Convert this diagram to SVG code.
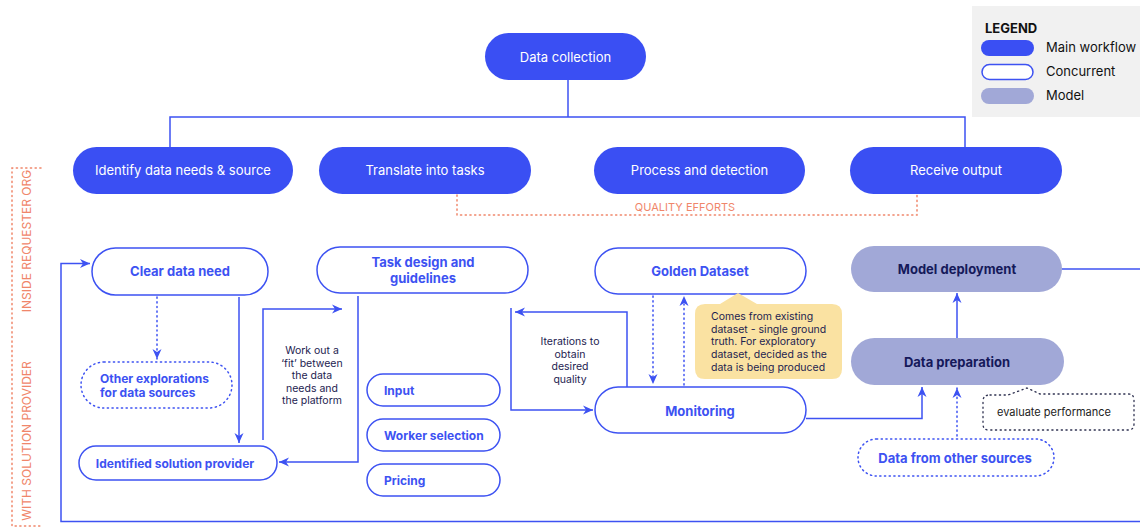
<svg xmlns="http://www.w3.org/2000/svg" width="1140" height="527" viewBox="0 0 1140 527">
<defs>
<marker id="ah" markerWidth="12" markerHeight="12" viewBox="0 0 12 12" refX="11" refY="6" orient="auto" markerUnits="userSpaceOnUse">
<path d="M1,1.5 L11,6 L1,10.5 L4,6 Z" fill="#3d52f2"/>
</marker>
<style>
.main rect{fill:#3a4ff3}
.main text{fill:#fff;font-family:Inter,"Liberation Sans",sans-serif;font-size:13px;text-anchor:middle}
.conc rect{fill:#fff;stroke:#3d52f2;stroke-width:1.5}
.conc text{fill:#3d52f2;font-family:Inter,"Liberation Sans",sans-serif;font-size:13px;font-weight:700;text-anchor:middle}
.dot rect{fill:#fff;stroke:#3d52f2;stroke-width:1.5;stroke-dasharray:1.2 3.5;stroke-linecap:round}
.model rect{fill:#a1a8d7}
.model text{fill:#15195a;font-family:Inter,"Liberation Sans",sans-serif;font-size:13px;font-weight:700;text-anchor:middle}
.ln{fill:none;stroke:#3d52f2;stroke-width:1.5}
.dl{fill:none;stroke:#3d52f2;stroke-width:1.5;stroke-dasharray:1.2 3.5;stroke-linecap:round}
.or{fill:none;stroke:#f0866a;stroke-width:1.5;stroke-dasharray:1.2 3.5;stroke-linecap:round}
.ann{fill:#1d2250;font-family:Inter,"Liberation Sans",sans-serif;font-size:10.5px;text-anchor:middle}
.orl{fill:#f0866a;font-family:Inter,"Liberation Sans",sans-serif;font-size:11px;text-anchor:middle}
.leg{fill:#111;font-family:Inter,"Liberation Sans",sans-serif;font-size:13px}
</style>
</defs>
<rect width="1140" height="527" fill="#fff"/>

<!-- legend -->
<g id="legend">
<rect x="972" y="6" width="168" height="111" fill="#f1f1f1"/>
<text x="985" y="33" class="leg" font-weight="700">LEGEND</text>
<rect x="981" y="40" width="53" height="16" rx="8" fill="#3a4ff3"/>
<rect x="982" y="64.5" width="51" height="15" rx="7.5" fill="#fff" stroke="#3d52f2" stroke-width="1.5"/>
<rect x="981" y="88" width="53" height="16" rx="8" fill="#a1a8d7"/>
<text x="1046" y="52" class="leg">Main workflow</text>
<text x="1046" y="76" class="leg">Concurrent</text>
<text x="1046" y="100" class="leg">Model</text>
</g>

<!-- side labels -->
<g id="side-bracket">
<path class="or" d="M41,168 H12 V526 H41"/>
<text class="orl" style="font-size:12px" transform="translate(31,241) rotate(-90)">INSIDE REQUESTER ORG</text>
<text class="orl" style="font-size:12px" transform="translate(31,441) rotate(-90)">WITH SOLUTION PROVIDER</text>
</g>

<!-- connectors -->
<g id="connectors">
<path class="ln" d="M568,80 V117"/>
<path class="ln" d="M170,147 V117 H965 V147"/>
<path class="or" d="M457,195 V215 H917 V195"/>
<text class="orl" x="685" y="211">QUALITY EFFORTS</text>

<path class="ln" d="M1140,521.5 H61 V263.5 H90" marker-end="url(#ah)"/>
<path class="dl" d="M157,297 V359" marker-end="url(#ah)"/>
<path class="ln" d="M239,297 V443" marker-end="url(#ah)"/>
<path class="ln" d="M263,440 V309 H342" marker-end="url(#ah)"/>
<path class="ln" d="M358,296 V462 H279" marker-end="url(#ah)"/>
<text class="ann"><tspan x="312" y="354">Work out a</tspan><tspan x="312" y="366.5">‘fit’ between</tspan><tspan x="312" y="379">the data</tspan><tspan x="312" y="391.5">needs and</tspan><tspan x="312" y="404">the platform</tspan></text>

<path class="ln" d="M627,387 V312 H515" marker-end="url(#ah)"/>
<path class="ln" d="M511,308 V410 H593" marker-end="url(#ah)"/>
<text class="ann"><tspan x="570" y="345">Iterations to</tspan><tspan x="570" y="357.5">obtain</tspan><tspan x="570" y="370">desired</tspan><tspan x="570" y="382.5">quality</tspan></text>

<path class="dl" d="M653,296 V384" marker-end="url(#ah)"/>
<path class="dl" d="M684,385 V296" marker-end="url(#ah)"/>

<path class="ln" d="M806,418.5 H922 V387" marker-end="url(#ah)"/>
<path class="ln" d="M957,338 V293" marker-end="url(#ah)"/>
<path class="dl" d="M957,436 V388" marker-end="url(#ah)"/>
<path class="ln" d="M1062,269 H1140"/>
</g>

<!-- top row -->
<g id="data-collection" class="main"><rect x="485" y="33" width="161" height="47" rx="23.5"/><text x="565.5" y="61.5">Data collection</text></g>
<g id="identify" class="main"><rect x="73" y="147" width="220" height="47" rx="23.5"/><text x="183" y="175">Identify data needs &amp; source</text></g>
<g id="translate" class="main"><rect x="319" y="147" width="212" height="47" rx="23.5"/><text x="425" y="175">Translate into tasks</text></g>
<g id="process" class="main"><rect x="594" y="147" width="211" height="47" rx="23.5"/><text x="699.5" y="175">Process and detection</text></g>
<g id="receive" class="main"><rect x="850" y="147" width="212" height="47" rx="23.5"/><text x="956" y="175">Receive output</text></g>

<!-- concurrent -->
<g id="clear-data-need" class="conc"><rect x="92" y="248" width="176" height="47" rx="23.5"/><text x="180" y="276">Clear data need</text></g>
<g id="other-explorations" class="dot"><rect x="81" y="362" width="151" height="46" rx="23"/><text x="100" y="382.5" fill="#3d52f2" font-family="Inter,'Liberation Sans',sans-serif" font-size="12px" font-weight="700">Other explorations</text><text x="100" y="397" fill="#3d52f2" font-family="Inter,'Liberation Sans',sans-serif" font-size="12px" font-weight="700">for data sources</text></g>
<g id="solution-provider" class="conc"><rect x="79" y="446" width="198" height="34" rx="17"/><text x="175" y="467.5" style="font-size:12px">Identified solution provider</text></g>
<g id="task-design" class="conc"><rect x="317" y="247" width="211" height="46" rx="23"/><text x="423" y="266.5">Task design and</text><text x="423" y="282.5">guidelines</text></g>
<g id="input" class="conc"><rect x="367" y="374" width="133" height="32" rx="16"/><text x="384" y="395" style="text-anchor:start;font-size:12px">Input</text></g>
<g id="worker-selection" class="conc"><rect x="367" y="419" width="133" height="32" rx="16"/><text x="384" y="440" style="text-anchor:start;font-size:12px">Worker selection</text></g>
<g id="pricing" class="conc"><rect x="367" y="464" width="133" height="32" rx="16"/><text x="384" y="485" style="text-anchor:start;font-size:12px">Pricing</text></g>
<g id="golden-dataset" class="conc"><rect x="595" y="248" width="211" height="46" rx="23"/><text x="700" y="275.5">Golden Dataset</text></g>
<g id="monitoring" class="conc"><rect x="595" y="387" width="211" height="46" rx="23"/><text x="700" y="415.5">Monitoring</text></g>

<g id="callout">
<path d="M707,304 H720 L738,293 L757,304 H832 Q842,304 842,314 V369 Q842,379 832,379 H705 Q695,379 695,369 V314 Q695,304 705,304 Z" fill="#fae2a2"/>
<text font-family="Inter,'Liberation Sans',sans-serif" font-size="10.5px" fill="#1d2250"><tspan x="711" y="320">Comes from existing</tspan><tspan x="711" y="332.7">dataset - single ground</tspan><tspan x="711" y="345.4">truth. For exploratory</tspan><tspan x="711" y="358.1">dataset, decided as the</tspan><tspan x="711" y="370.8">data is being produced</tspan></text>
</g>

<!-- model -->
<g id="model-deployment" class="model"><rect x="851" y="246" width="211" height="46" rx="23"/><text x="957" y="273.5">Model deployment</text></g>
<g id="data-preparation" class="model"><rect x="851" y="338" width="213" height="47" rx="23.5"/><text x="957" y="366.5">Data preparation</text></g>
<g id="other-sources" class="dot"><rect x="858" y="439" width="196" height="37" rx="18.5"/><text x="955" y="462.5" fill="#3d52f2" font-family="Inter,'Liberation Sans',sans-serif" font-size="13px" font-weight="700" text-anchor="middle">Data from other sources</text></g>
<g id="evaluate">
<path d="M990,395 H1008 L1027,388 L1040,394 H1128 Q1134,394 1134,400 V424 Q1134,430 1128,430 H989 Q983,430 983,424 V401 Q983,395 990,395 Z" fill="#fff" stroke="#2e3150" stroke-width="1.3" stroke-dasharray="1.2 3.5" stroke-linecap="round"/>
<text x="997" y="416" font-family="Inter,'Liberation Sans',sans-serif" font-size="11px" fill="#222">evaluate performance</text>
</g>
</svg>
